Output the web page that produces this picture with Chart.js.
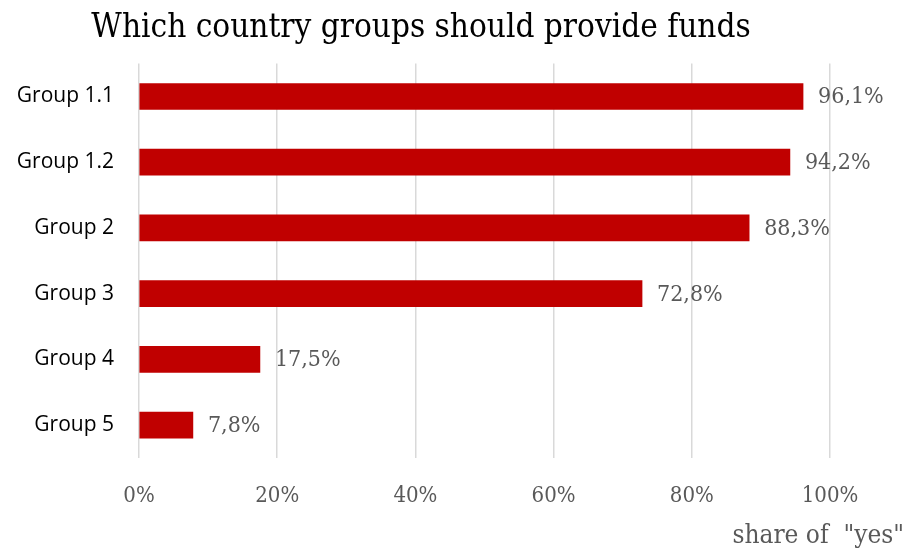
<!DOCTYPE html>
<html>
<head>
<meta charset="utf-8">
<title>Which country groups should provide funds</title>
<script src="https://cdn.jsdelivr.net/npm/chart.js@4.4.1/dist/chart.umd.min.js"></script>
<style>
  html, body { margin: 0; padding: 0; background: #fff; }
  #wrap { width: 907px; height: 560px; position: relative; }
</style>
</head>
<body>
<div id="wrap"><canvas id="fundsChart"></canvas></div>
<script>
const groups = ["Group 1.1", "Group 1.2", "Group 2", "Group 3", "Group 4", "Group 5"];
const shareYes = [96.1, 94.2, 88.3, 72.8, 17.5, 7.8];
const xTicks = [0, 20, 40, 60, 80, 100];

const SERIF = "'DejaVu Serif Condensed', 'Liberation Serif', serif";
const GREY = "#595959";

// prints "96,1%" style labels just past the end of every bar
const valueLabels = {
  id: "valueLabels",
  afterDatasetsDraw(chart) {
    const ctx = chart.ctx;
    const meta = chart.getDatasetMeta(0);
    ctx.save();
    ctx.font = "23px " + SERIF;
    ctx.fillStyle = GREY;
    ctx.textAlign = "left";
    ctx.textBaseline = "middle";
    meta.data.forEach((bar, i) => {
      const txt = shareYes[i].toFixed(1).replace(".", ",") + "%";
      ctx.fillText(txt, bar.x + 15, bar.y + 1);
    });
    ctx.restore();
  }
};

// axis caption sits in the bottom right corner, outside the plot
const axisCaption = {
  id: "axisCaption",
  afterDraw(chart) {
    const ctx = chart.ctx;
    ctx.save();
    ctx.font = "26px " + SERIF;
    ctx.fillStyle = GREY;
    ctx.textAlign = "right";
    ctx.textBaseline = "alphabetic";
    ctx.fillText('share of  "yes"', chart.width - 3, chart.chartArea.bottom + 85);
    ctx.restore();
  }
};

const ctx = document.getElementById("fundsChart").getContext("2d");

new Chart(ctx, {
  type: "bar",
  data: {
    labels: groups,
    datasets: [
      {
        label: "share of yes",
        data: shareYes,
        backgroundColor: "#c00000",
        barThickness: 26,
      },
    ],
  },
  options: {
    indexAxis: "y",
    responsive: true,
    maintainAspectRatio: false,
    animation: false,
    layout: {
      padding: { left: 12, right: 77, top: 0, bottom: 0 },
    },
    plugins: {
      legend: { display: false },
      tooltip: { enabled: false },
      title: {
        display: true,
        text: "Which country groups should provide funds",
        color: "#000",
        font: { family: SERIF, size: 33, weight: "normal" },
        padding: { top: 9, bottom: 15 },
      },
    },
    scales: {
      x: {
        min: 0,
        max: 100,
        afterBuildTicks(scale) {
          scale.ticks = xTicks.map(v => ({ value: v }));
        },
        afterFit(scale) {
          scale.height = 102;
          scale.paddingRight = 0; // let "100%" hang past the plot
        },
        ticks: {
          color: GREY,
          font: { family: SERIF, size: 22 },
          padding: 25,
          callback: value => value + "%",
        },
        grid: {
          color: "#d9d9d9",
          lineWidth: 1.5,
          drawTicks: false,
        },
        border: { display: false },
      },
      y: {
        afterFit(scale) {
          scale.width = 127;
        },
        ticks: {
          color: "#000",
          font: { family: "'Open Sans', sans-serif", size: 21 },
          padding: 25,
        },
        grid: { display: false, drawTicks: false },
        border: { display: false },
      },
    },
  },
  plugins: [valueLabels, axisCaption],
});
</script>
</body>
</html>
